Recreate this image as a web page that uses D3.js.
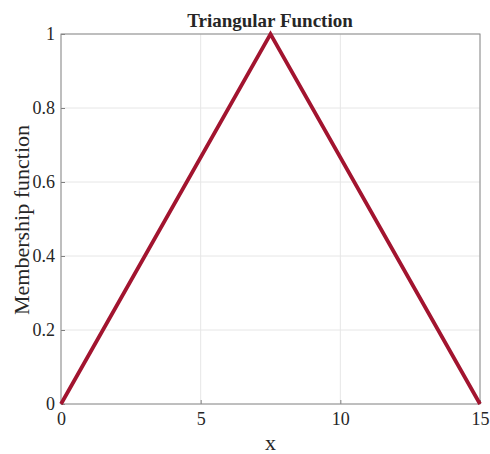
<!DOCTYPE html>
<html><head><meta charset="utf-8">
<script src="https://cdn.jsdelivr.net/npm/d3@7"></script>
<style>body{margin:0;background:#fff}svg{display:block}text{font-family:"Liberation Serif","Times New Roman",serif;fill:#262626}</style>
</head><body><svg id="c" width="490" height="454"></svg>
<script>
const xData = [0, 7.5, 15];
const yData = [0, 1, 0];
const xTicks = [0, 5, 10, 15];
const yTicks = [0, 0.2, 0.4, 0.6, 0.8, 1];
const titleText = "Triangular Function";
const xLabel = "x";
const yLabel = "Membership function";

const svg = d3.select("#c");
const L = 61, R = 480, T = 34, B = 404;
const x = d3.scaleLinear().domain([0, 15]).range([L, R]);
const y = d3.scaleLinear().domain([0, 1]).range([B, T]);

// grid
svg.append("g").selectAll("line").data(xTicks).join("line")
  .attr("x1", d => x(d)).attr("x2", d => x(d)).attr("y1", T).attr("y2", B)
  .attr("stroke", "#e6e6e6").attr("stroke-width", 1);
svg.append("g").selectAll("line").data(yTicks).join("line")
  .attr("y1", d => y(d)).attr("y2", d => y(d)).attr("x1", L).attr("x2", R)
  .attr("stroke", "#e6e6e6").attr("stroke-width", 1);

// axes
const xAxis = d3.axisBottom(x).tickValues(xTicks).tickSize(-4).tickPadding(8).tickFormat(d3.format("d"));
const yAxis = d3.axisLeft(y).tickValues(yTicks).tickSize(-4).tickPadding(6).tickFormat(d => String(d));
const gx = svg.append("g").attr("transform", `translate(0,${B})`).call(xAxis);
const gy = svg.append("g").attr("transform", `translate(${L},0)`).call(yAxis);
[gx, gy].forEach(g => {
  g.select(".domain").remove();
  g.selectAll(".tick line").attr("stroke", "#808080");
  g.selectAll("text").attr("font-size", 18).attr("fill", "#262626").style("font-family", '"Liberation Serif",serif');
});
// box
svg.append("rect").attr("x", L).attr("y", T).attr("width", R - L).attr("height", B - T)
  .attr("fill", "none").attr("stroke", "#8a8a8a").attr("stroke-width", 1);

// line
const pts = xData.map((d, i) => [d, yData[i]]);
svg.append("path").datum(pts)
  .attr("d", d3.line().x(d => x(d[0])).y(d => y(d[1])))
  .attr("fill", "none").attr("stroke", "#A2142F").attr("stroke-width", 3.8)
  .attr("stroke-linejoin", "miter");

// labels
svg.append("text").attr("x", 270).attr("y", 27).attr("text-anchor", "middle")
  .attr("font-size", 19).attr("font-weight", "bold").attr("fill", "#000").text(titleText);
svg.append("text").attr("x", x(7.5)).attr("y", 450).attr("text-anchor", "middle")
  .attr("font-size", 22).text(xLabel);
svg.append("text").attr("transform", `translate(29,${(T + B) / 2 + 1}) rotate(-90)`).attr("text-anchor", "middle")
  .attr("font-size", 22).text(yLabel);
</script></body></html>
